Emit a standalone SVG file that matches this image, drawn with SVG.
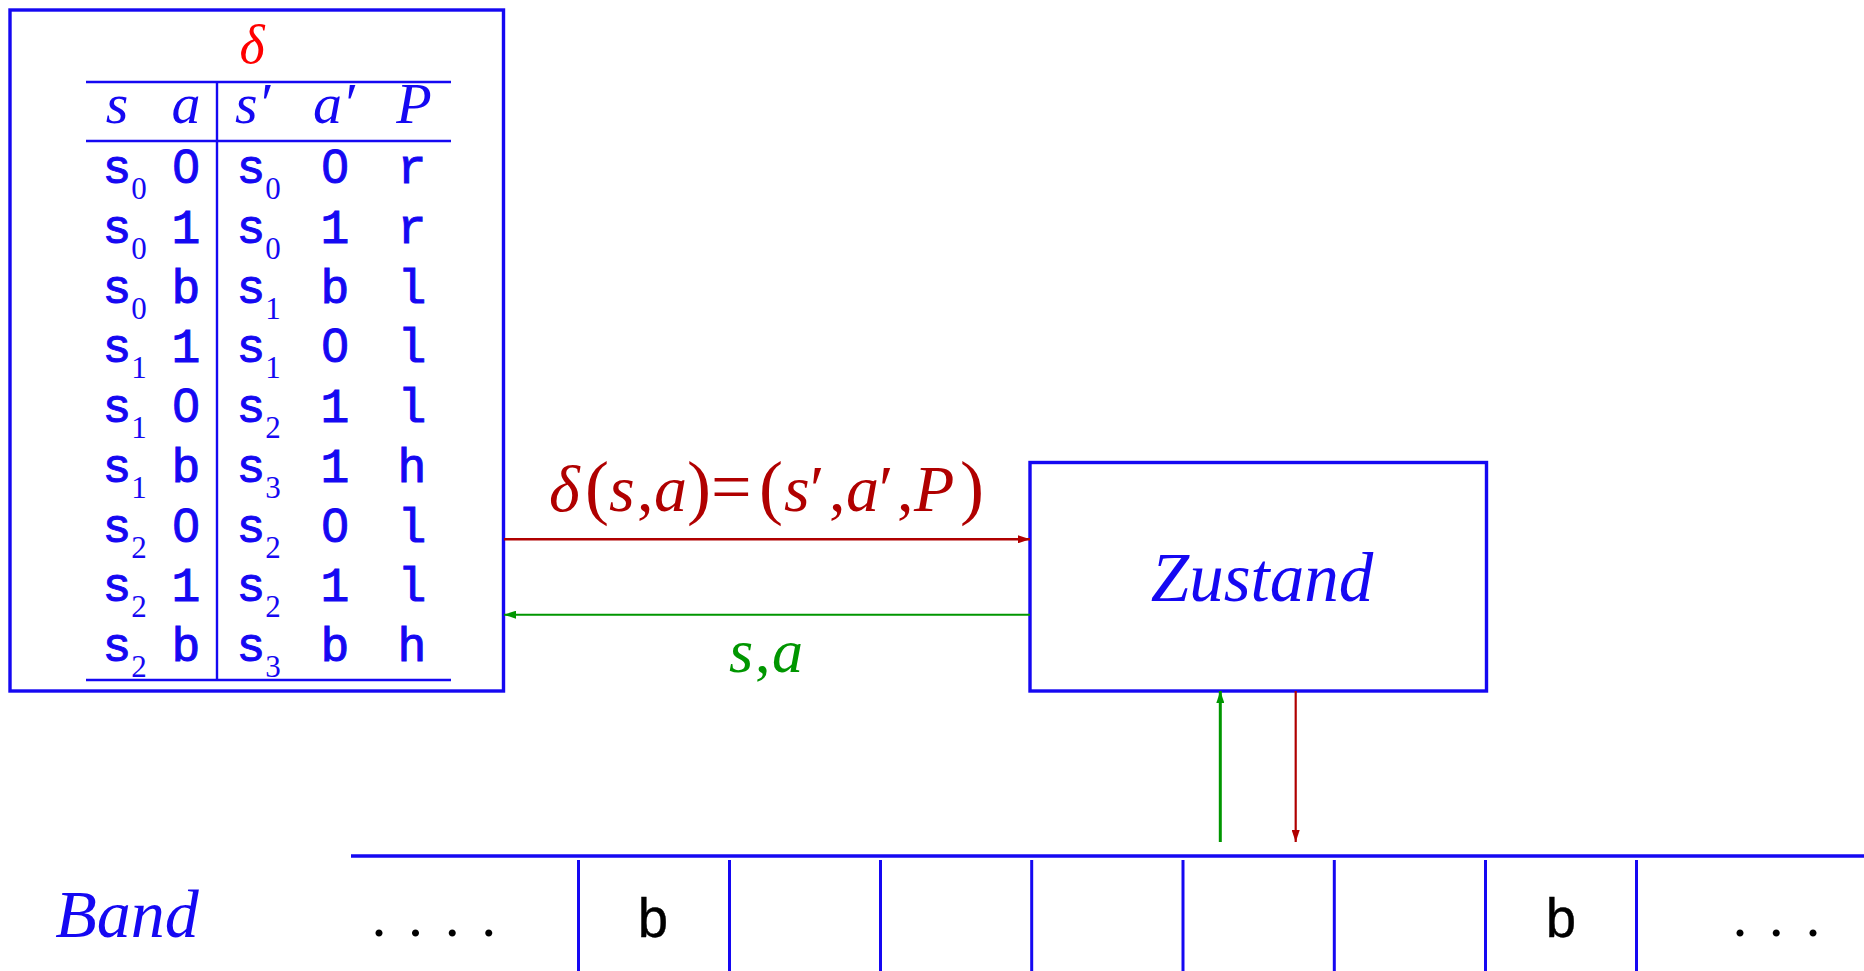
<svg xmlns="http://www.w3.org/2000/svg" width="1864" height="971" viewBox="0 0 1864 971">
  <style>
    .box { fill: none; stroke: #1508f2; stroke-width: 3.4; }
    .rule { stroke: #1508f2; stroke-width: 2.4; fill: none; }
    .cell { stroke: #1508f2; stroke-width: 3; fill: none; }
    .math { font-family: "Liberation Serif", "DejaVu Serif", serif; font-style: italic; }
    .rm { font-family: "Liberation Serif", "DejaVu Serif", serif; font-style: normal; }
    .big { font-size: 72px; }
    .tt { font-family: "Liberation Mono", "DejaVu Sans Mono", monospace; }
    .zero { font-family: "Liberation Sans", "DejaVu Sans", sans-serif; }
    .row { font-size: 48px; fill: #1508f2; stroke: #1508f2; stroke-width: 1; text-anchor: middle; }
    .sub { font-family: "Liberation Serif", "DejaVu Serif", serif; font-size: 31px; fill: #1508f2; text-anchor: middle; }
    .head { font-size: 58px; fill: #1508f2; }
    .red { fill: #b00000; }
    .green { fill: #009600; }
    .dots { font-family: "Liberation Serif", "DejaVu Serif", serif; font-size: 60px; fill: #000; }
  </style>
  <defs>
    <marker id="headRed" markerUnits="userSpaceOnUse" markerWidth="12" markerHeight="8" refX="12" refY="4" orient="auto">
      <path d="M0,0 L12,4 L0,8 z" fill="#b00000"/>
    </marker>
    <marker id="headGreen" markerUnits="userSpaceOnUse" markerWidth="12" markerHeight="8" refX="12" refY="4" orient="auto">
      <path d="M0,0 L12,4 L0,8 z" fill="#009600"/>
    </marker>
  </defs>
  <rect width="1864" height="971" fill="#fff"/>

  <!-- transition table -->
  <g id="table">
    <rect class="box" x="10" y="10" width="493.5" height="681"/>
    <text class="math" x="252" y="63" font-size="54" fill="#ff0000" text-anchor="middle">δ</text>
    <line class="rule" x1="86" y1="82" x2="451" y2="82"/>
    <line class="rule" x1="86" y1="141" x2="451" y2="141" stroke-width="2.8"/>
    <line class="rule" x1="86" y1="680" x2="451" y2="680"/>
    <line class="rule" x1="217" y1="82" x2="217" y2="680"/>
    <g class="math head">
      <text x="117" y="123" text-anchor="middle">s</text>
      <text x="186" y="123" text-anchor="middle">a</text>
      <text x="235" y="123">s′</text>
      <text x="313" y="123">a′</text>
      <text x="414" y="123" text-anchor="middle">P</text>
    </g>
    <g id="rows">
      <g transform="translate(0,183)">
        <text class="tt row" x="117">s</text><text class="sub" x="139" y="16">0</text><text class="zero row" x="186">0</text>
        <text class="tt row" x="251">s</text><text class="sub" x="273" y="16">0</text><text class="zero row" x="335">0</text><text class="tt row" x="412">r</text>
      </g>
      <g transform="translate(0,242.75)">
        <text class="tt row" x="117">s</text><text class="sub" x="139" y="16">0</text><text class="tt row" x="186">1</text>
        <text class="tt row" x="251">s</text><text class="sub" x="273" y="16">0</text><text class="tt row" x="335">1</text><text class="tt row" x="412">r</text>
      </g>
      <g transform="translate(0,302.5)">
        <text class="tt row" x="117">s</text><text class="sub" x="139" y="16">0</text><text class="tt row" x="186">b</text>
        <text class="tt row" x="251">s</text><text class="sub" x="273" y="16">1</text><text class="tt row" x="335">b</text><text class="tt row" x="412">l</text>
      </g>
      <g transform="translate(0,362.25)">
        <text class="tt row" x="117">s</text><text class="sub" x="139" y="16">1</text><text class="tt row" x="186">1</text>
        <text class="tt row" x="251">s</text><text class="sub" x="273" y="16">1</text><text class="zero row" x="335">0</text><text class="tt row" x="412">l</text>
      </g>
      <g transform="translate(0,422)">
        <text class="tt row" x="117">s</text><text class="sub" x="139" y="16">1</text><text class="zero row" x="186">0</text>
        <text class="tt row" x="251">s</text><text class="sub" x="273" y="16">2</text><text class="tt row" x="335">1</text><text class="tt row" x="412">l</text>
      </g>
      <g transform="translate(0,481.75)">
        <text class="tt row" x="117">s</text><text class="sub" x="139" y="16">1</text><text class="tt row" x="186">b</text>
        <text class="tt row" x="251">s</text><text class="sub" x="273" y="16">3</text><text class="tt row" x="335">1</text><text class="tt row" x="412">h</text>
      </g>
      <g transform="translate(0,541.5)">
        <text class="tt row" x="117">s</text><text class="sub" x="139" y="16">2</text><text class="zero row" x="186">0</text>
        <text class="tt row" x="251">s</text><text class="sub" x="273" y="16">2</text><text class="zero row" x="335">0</text><text class="tt row" x="412">l</text>
      </g>
      <g transform="translate(0,601.25)">
        <text class="tt row" x="117">s</text><text class="sub" x="139" y="16">2</text><text class="tt row" x="186">1</text>
        <text class="tt row" x="251">s</text><text class="sub" x="273" y="16">2</text><text class="tt row" x="335">1</text><text class="tt row" x="412">l</text>
      </g>
      <g transform="translate(0,661)">
        <text class="tt row" x="117">s</text><text class="sub" x="139" y="16">2</text><text class="tt row" x="186">b</text>
        <text class="tt row" x="251">s</text><text class="sub" x="273" y="16">3</text><text class="tt row" x="335">b</text><text class="tt row" x="412">h</text>
      </g>
    </g>
  </g>

  <!-- control state -->
  <g id="zustand">
    <rect class="box" x="1030" y="462.5" width="456.5" height="228.5"/>
    <text class="math" x="1262" y="601" font-size="69" fill="#1508f2" text-anchor="middle">Zustand</text>
  </g>

  <!-- tape -->
  <g id="band">
    <text class="math" x="127" y="937" font-size="68" fill="#1508f2" text-anchor="middle">Band</text>
    <line class="box" x1="351" y1="856" x2="1864" y2="856"/>
    <g class="cell">
      <line x1="578.5" y1="860" x2="578.5" y2="971"/>
      <line x1="729.5" y1="860" x2="729.5" y2="971"/>
      <line x1="880.5" y1="860" x2="880.5" y2="971"/>
      <line x1="1031.7" y1="860" x2="1031.7" y2="971"/>
      <line x1="1183" y1="860" x2="1183" y2="971"/>
      <line x1="1334.3" y1="860" x2="1334.3" y2="971"/>
      <line x1="1485.5" y1="860" x2="1485.5" y2="971"/>
      <line x1="1636.5" y1="860" x2="1636.5" y2="971"/>
    </g>
    <text class="dots" x="371.5 408 444.8 481.2" y="936">....</text>
    <text class="tt" x="653" y="937" font-size="55" fill="#000" stroke="#000" stroke-width="0.4" text-anchor="middle">b</text>
    <text class="tt" x="1561" y="937" font-size="55" fill="#000" stroke="#000" stroke-width="0.4" text-anchor="middle">b</text>
    <text class="dots" x="1732.5 1768.8 1805.5" y="936">...</text>
  </g>

  <!-- connectors -->
  <g id="connectors" fill="none">
    <line x1="504" y1="539.3" x2="1030" y2="539.3" stroke="#b00000" stroke-width="2.4" marker-end="url(#headRed)"/>
    <line x1="1030" y1="614.7" x2="504" y2="614.7" stroke="#009600" stroke-width="1.9" marker-end="url(#headGreen)"/>
    <line x1="1220.3" y1="842" x2="1220.3" y2="691" stroke="#009600" stroke-width="3" marker-end="url(#headGreen)"/>
    <line x1="1295.7" y1="691" x2="1295.7" y2="842" stroke="#b00000" stroke-width="2.2" marker-end="url(#headRed)"/>
  </g>

  <!-- connector labels -->
  <g id="labels">
    <text class="red" font-size="66" y="511">
      <tspan class="math" x="549">δ</tspan><tspan class="rm big" x="585">(</tspan><tspan class="math" x="609">s</tspan><tspan class="rm" x="637">,</tspan><tspan class="math" x="654">a</tspan><tspan class="rm big" x="687">)</tspan><tspan class="rm big" x="711">=</tspan><tspan class="rm big" x="759">(</tspan><tspan class="math" x="784">s</tspan><tspan class="rm" x="810">′</tspan><tspan class="rm" x="829">,</tspan><tspan class="math" x="846">a</tspan><tspan class="rm" x="879">′</tspan><tspan class="rm" x="897">,</tspan><tspan class="math" x="914">P</tspan><tspan class="rm big" x="960">)</tspan>
    </text>
    <text class="green" font-size="62" y="672">
      <tspan class="math" x="729">s</tspan><tspan class="rm" x="755">,</tspan><tspan class="math" x="772">a</tspan>
    </text>
  </g>
</svg>
